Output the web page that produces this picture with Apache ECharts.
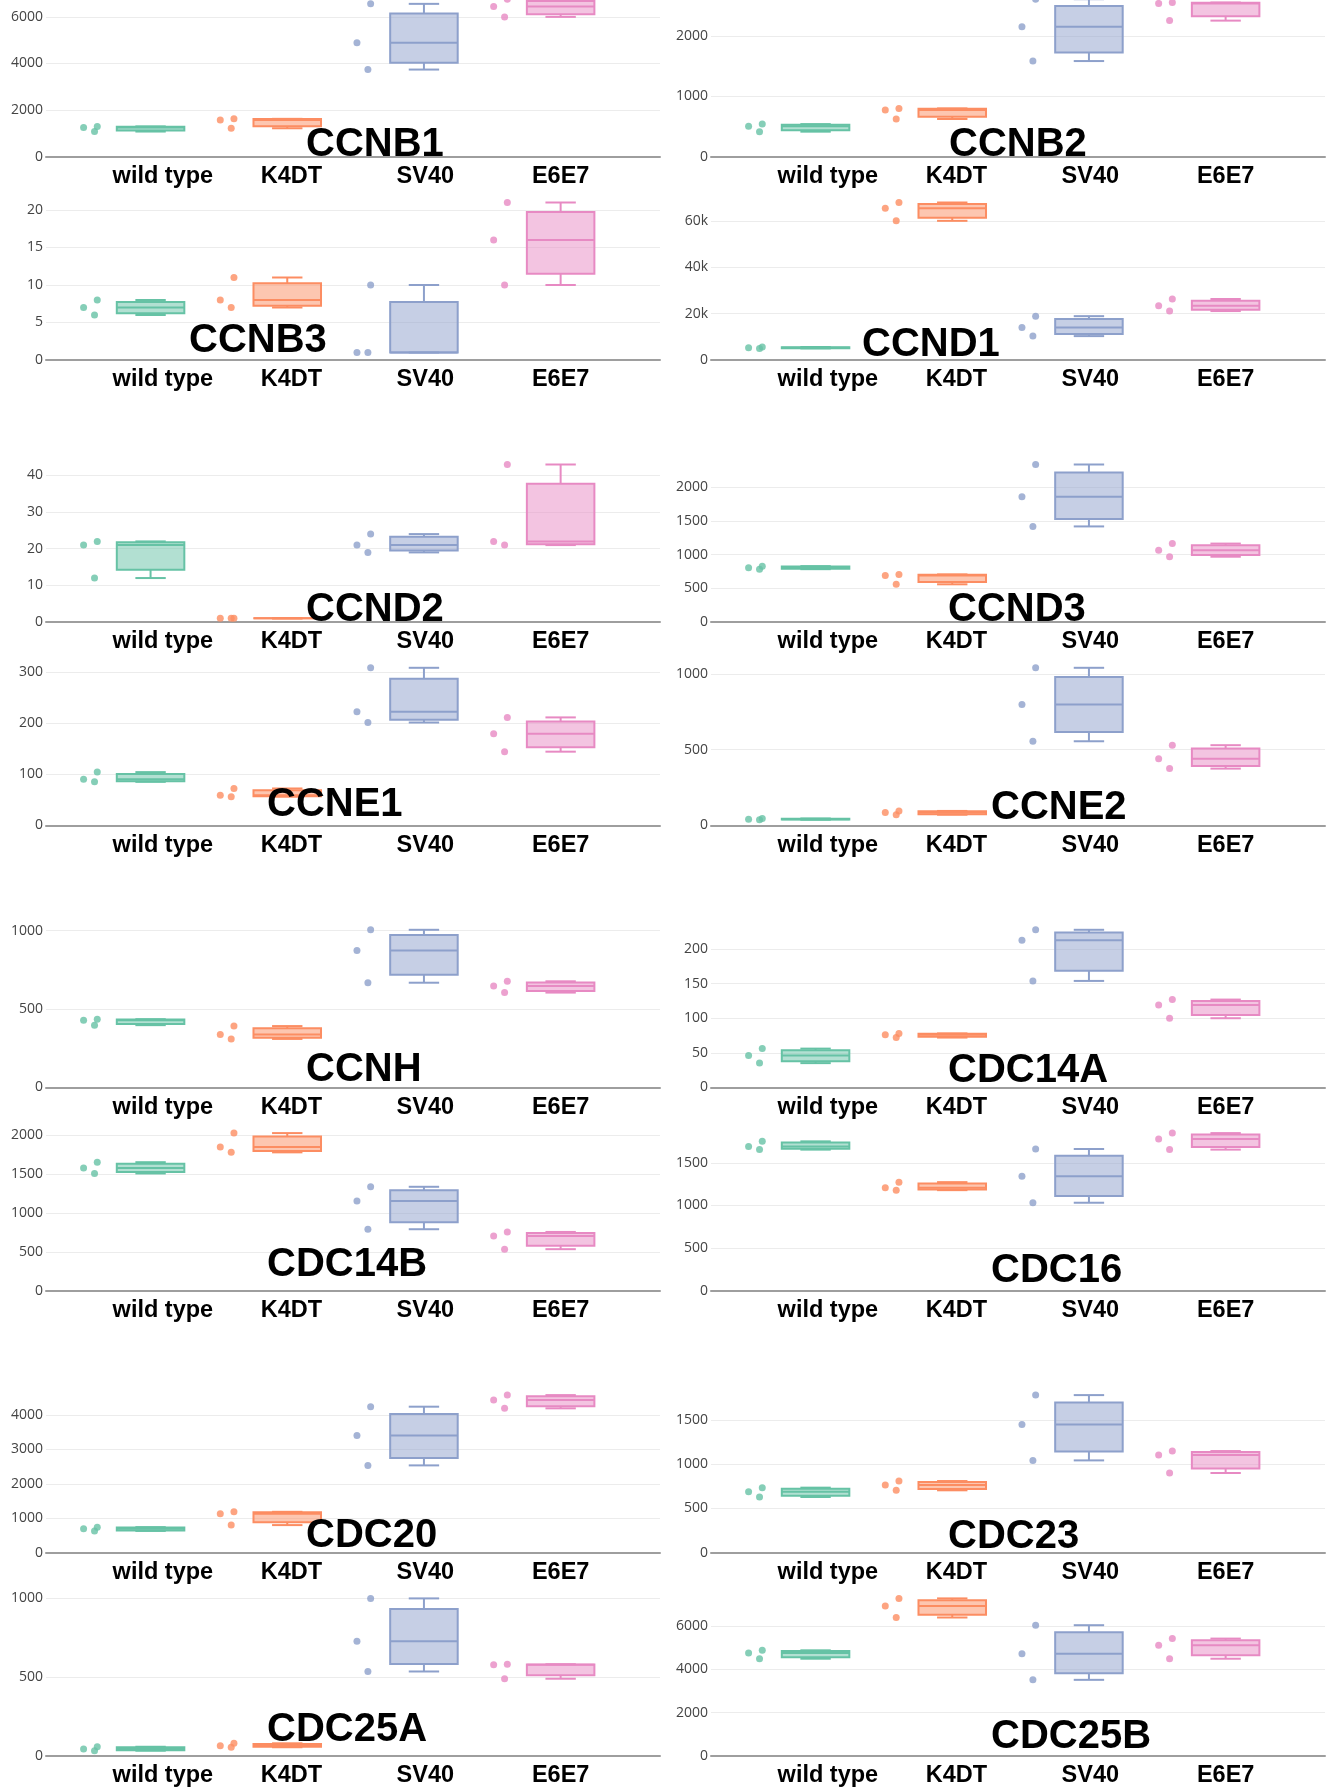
<!DOCTYPE html>
<html>
<head>
<meta charset="utf-8">
<script src="https://cdn.jsdelivr.net/npm/echarts@6/dist/echarts.min.js"></script>
<style>
  html, body { margin: 0; padding: 0; background: #fff; }
  #chart { width: 1333px; height: 1787px; }
</style>
</head>
<body>
<div id="chart"></div>
<script>
// Cell lines (x categories) and genes (one panel each)
const groups = ['wild type', 'K4DT', 'SV40', 'E6E7'];
const genes = ['CCNB1', 'CCNB2', 'CCNB3', 'CCND1', 'CCND2', 'CCND3', 'CCNE1', 'CCNE2',
               'CCNH', 'CDC14A', 'CDC14B', 'CDC16', 'CDC20', 'CDC23', 'CDC25A', 'CDC25B'];

// Expression of each gene: three replicates per cell line, in the order of `groups`
const CCNB1  = [[1080, 1250, 1300], [1220, 1580, 1625], [3740, 4890, 6560], [6000, 6450, 6760]];
const CCNB2  = [[415, 505, 540], [625, 775, 800], [1585, 2155, 2610], [2255, 2540, 2555]];
const CCNB3  = [[6, 7, 8], [7, 8, 11], [1, 1, 10], [10, 16, 21]];
const CCND1  = [[5000, 5300, 5600], [60000, 65400, 67900], [10300, 14000, 18900], [21100, 23400, 26300]];
const CCND2  = [[12, 21, 22], [1, 1, 1], [19, 21, 24], [21, 22, 43]];
const CCND3  = [[785, 805, 830], [560, 690, 707], [1420, 1860, 2340], [970, 1065, 1165]];
const CCNE1  = [[85, 90, 104], [56, 59, 72], [201, 222, 308], [144, 179, 211]];
const CCNE2  = [[37, 40, 45], [70, 85, 95], [556, 800, 1042], [375, 441, 530]];
const CCNH   = [[397, 429, 435], [309, 338, 391], [668, 873, 1006], [605, 647, 677]];
const CDC14A = [[35, 46, 56], [72, 76, 78], [154, 213, 228], [100, 119, 127]];
const CDC14B = [[1510, 1580, 1655], [1782, 1850, 2030], [791, 1154, 1338], [534, 705, 756]];
const CDC16  = [[1656, 1694, 1753], [1180, 1208, 1274], [1032, 1344, 1663], [1656, 1780, 1850]];
const CDC20  = [[630, 690, 740], [800, 1128, 1186], [2536, 3404, 4243], [4195, 4436, 4580]];
const CDC23  = [[630, 690, 736], [706, 766, 811], [1045, 1453, 1785], [902, 1106, 1151]];
const CDC25A = [[33, 44, 58], [55, 65, 80], [536, 728, 1000], [490, 578, 582]];
const CDC25B = [[4482, 4745, 4869], [6383, 6909, 7264], [3508, 4714, 6028], [4482, 5100, 5410]];

const geneData = [CCNB1, CCNB2, CCNB3, CCND1, CCND2, CCND3, CCNE1, CCNE2,
                  CCNH, CDC14A, CDC14B, CDC16, CDC20, CDC23, CDC25A, CDC25B];

// y tick step of each panel
const tickStep = [2000, 1000, 5, 20000, 10, 500, 100, 500,
                  500, 50, 500, 500, 1000, 500, 500, 2000];

// ---- styling / layout ----
const COLORS = ['#66c2a5', '#fc8d62', '#8da0cb', '#e78ac3'];
const FILLS = ['rgba(102,194,165,0.5)', 'rgba(252,141,98,0.5)', 'rgba(141,160,203,0.5)', 'rgba(231,138,195,0.5)'];
const FONT = '"Liberation Sans", Arial, Helvetica, sans-serif';
const TICK_FONT = '"Open Sans", "Liberation Sans", sans-serif';

const PANEL_LEFT = [46, 711];
const PANEL_W = 614;
const PLOT_H = 165;
const TOP_PAD = 7.5;              // px between the highest point and the plot top
const FIRST_ZERO = 156.7;
const FIG_STEP = 465.3;
const ROW_STEP = 203.3;
const X_MIN = -0.765, X_MAX = 3.727;
const LABEL_AT = [0.09, 1.03, 2.01, 3.0];   // where the cell-line names sit on the x axis
const BOX_HALF = 0.247;            // half box width, in category units
const CAP_RATIO = 0.45;            // whisker cap width relative to box width
const JITTER = [-0.41, -0.49, -0.39];  // point offsets for lowest, middle, highest replicate

// gene label placement: [left edge, vertical middle]
const TITLE_POS = [
  [306, 142], [949, 142.5], [189, 338], [862, 342],
  [306, 607], [948, 607], [267, 802], [991, 805],
  [306, 1067], [948, 1068], [267, 1262], [991, 1268],
  [306, 1533], [948, 1534], [267, 1727.5], [991, 1734]
];

function fmtTick(v) {
  return v >= 10000 ? (v / 1000) + 'k' : String(v);
}

function renderBox(params, api) {
  const x = api.value(0);
  const k = api.value(6);
  const lo = api.coord([x, api.value(1)]);
  const q1 = api.coord([x, api.value(2)]);
  const md = api.coord([x, api.value(3)]);
  const q3 = api.coord([x, api.value(4)]);
  const hi = api.coord([x, api.value(5)]);
  const hw = api.size([BOX_HALF, 0])[0];
  const cw = hw * CAP_RATIO;
  const cx = lo[0];
  const line = { stroke: COLORS[k], lineWidth: 2, fill: null };
  return {
    type: 'group',
    children: [
      { type: 'line', shape: { x1: cx, y1: q3[1], x2: cx, y2: hi[1] }, style: line },
      { type: 'line', shape: { x1: cx, y1: q1[1], x2: cx, y2: lo[1] }, style: line },
      { type: 'line', shape: { x1: cx - cw, y1: hi[1], x2: cx + cw, y2: hi[1] }, style: line },
      { type: 'line', shape: { x1: cx - cw, y1: lo[1], x2: cx + cw, y2: lo[1] }, style: line },
      { type: 'rect', shape: { x: cx - hw, y: q3[1], width: 2 * hw, height: q1[1] - q3[1] },
        style: { fill: FILLS[k], stroke: COLORS[k], lineWidth: 2 } },
      { type: 'line', shape: { x1: cx - hw, y1: md[1], x2: cx + hw, y2: md[1] }, style: line }
    ]
  };
}

const option = {
  backgroundColor: '#fff',
  animation: false,
  title: [], grid: [], xAxis: [], yAxis: [], series: []
};

genes.forEach((gene, i) => {
  const col = i % 2;
  const row = Math.floor(i / 2);
  const zeroY = FIRST_ZERO + Math.floor(row / 2) * FIG_STEP + (row % 2) * ROW_STEP;
  const reps = geneData[i];
  const maxVal = Math.max(...reps.flat());
  const yMax = maxVal * PLOT_H / (PLOT_H - TOP_PAD);

  option.grid.push({
    left: PANEL_LEFT[col], width: PANEL_W,
    top: zeroY - PLOT_H, height: PLOT_H,
    containLabel: false, outerBoundsMode: 'none'
  });

  option.xAxis.push({
    type: 'value', gridIndex: i, min: X_MIN, max: X_MAX,
    axisLine: { show: true, onZero: false, lineStyle: { color: '#9e9e9e', width: 2 } },
    axisTick: { show: false },
    splitLine: { show: false },
    axisLabel: {
      customValues: LABEL_AT,
      formatter: v => groups[Math.round(v)],
      margin: 8,
      color: '#000', fontFamily: FONT, fontSize: 23.5, fontWeight: 'bold'
    }
  });

  option.yAxis.push({
    type: 'value', gridIndex: i, min: 0, max: yMax, interval: tickStep[i],
    axisLine: { show: false },
    axisTick: { show: false },
    splitLine: { show: true, showMinLine: false, showMaxLine: false,
                 lineStyle: { color: '#ececec', width: 1 } },
    axisLabel: {
      showMaxLabel: false, margin: 3, formatter: fmtTick,
      color: '#444', fontFamily: TICK_FONT, fontSize: 14
    }
  });

  const boxes = reps.map((v, k) => {
    const s = v.slice().sort((a, b) => a - b);
    return [k, s[0], 0.75 * s[0] + 0.25 * s[1], s[1], 0.25 * s[1] + 0.75 * s[2], s[2], k];
  });

  const points = [];
  reps.forEach((v, k) => {
    const s = v.slice().sort((a, b) => a - b);
    s.forEach((val, r) => {
      points.push({ value: [k + JITTER[r], val], itemStyle: { color: COLORS[k] } });
    });
  });

  option.series.push({
    type: 'custom', name: gene + ' box', xAxisIndex: i, yAxisIndex: i,
    renderItem: renderBox, data: boxes, clip: false, z: 2, silent: true
  });
  option.series.push({
    type: 'scatter', name: gene + ' replicates', xAxisIndex: i, yAxisIndex: i,
    symbol: 'circle', symbolSize: 7, data: points, z: 3, silent: true
  });

  option.title.push({
    text: gene, left: TITLE_POS[i][0], top: TITLE_POS[i][1] - 17.5, padding: 0,
    textStyle: { color: '#000', fontFamily: FONT, fontSize: 40, fontWeight: 'bold' }
  });
});

const chart = echarts.init(document.getElementById('chart'), null, { renderer: 'canvas' });
chart.setOption(option);
</script>
</body>
</html>
